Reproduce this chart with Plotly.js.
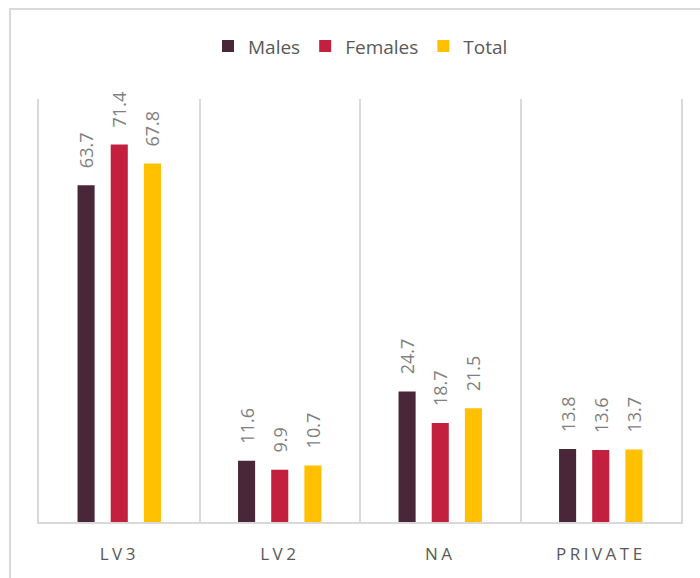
<!DOCTYPE html>
<html>
<head>
<meta charset="utf-8">
<script src="https://cdn.plot.ly/plotly-3.0.1.min.js"></script>
<style>
  html, body { margin: 0; padding: 0; background: #fff; }
  #wrap { position: relative; width: 700px; height: 578px; overflow: hidden; }
  #chart { position: absolute; left: 0; top: 0; width: 700px; height: 578px; }
  #frame { position: absolute; left: 9px; top: 8px; width: 800px; height: 700px;
           border-top: 2px solid #d9d9d9; border-left: 2px solid #d9d9d9; pointer-events: none; }
  .xtick text { letter-spacing: 3.5px; }
</style>
</head>
<body>
<div id="wrap">
  <div id="chart"></div>
  <div id="frame"></div>
</div>
<script>
const categories = ["LV3", "LV2", "NA", "PRIVATE"];
const males = [63.7, 11.6, 24.7, 13.8];
const females = [71.4, 9.9, 18.7, 13.6];
const total = [67.8, 10.7, 21.5, 13.7];

const seriesNames = ["Males", "Females", "Total"];
const seriesColors = ["#4A2639", "#C31F3F", "#FFC000"];
const seriesValues = [males, females, total];

const traces = seriesValues.map((vals, i) => ({
  type: "bar",
  name: seriesNames[i],
  x: categories,
  y: vals,
  marker: { color: seriesColors[i] },
  texttemplate: "\u00a0\u00a0\u00a0%{y:.1f}",
  textposition: "outside",
  textangle: -90,
  constraintext: "none",
  cliponaxis: false,
  textfont: { family: "Open Sans, sans-serif", size: 18, color: "#7f7f7f" },
  hoverinfo: "x+y+name"
}));

const layout = {
  width: 700,
  height: 578,
  margin: { l: 39, r: 19, t: 99, b: 56 },
  paper_bgcolor: "#ffffff",
  plot_bgcolor: "#ffffff",
  font: { family: "Open Sans, sans-serif", color: "#595959" },
  barmode: "group",
  bargap: 0.38,
  bargroupgap: 0.485,
  showlegend: true,
  legend: {
    orientation: "h",
    xref: "container",
    yref: "container",
    x: 0.515,
    xanchor: "center",
    y: 0.92,
    yanchor: "middle",
    font: { family: "Open Sans, sans-serif", size: 19, color: "#595959" },
    itemclick: false
  },
  xaxis: {
    type: "category",
    tickson: "boundaries",
    showgrid: true,
    gridcolor: "#d9d9d9",
    gridwidth: 2,
    showline: true,
    linecolor: "#d9d9d9",
    linewidth: 2,
    ticks: "",
    ticklabelstandoff: 16,
    tickfont: { family: "Open Sans, sans-serif", size: 17, color: "#595959" }
  },
  yaxis: {
    range: [0, 80],
    showticklabels: false,
    showgrid: false,
    zeroline: false,
    showline: true,
    mirror: true,
    linecolor: "#d9d9d9",
    linewidth: 2,
    ticks: ""
  }
};

Plotly.newPlot("chart", traces, layout, { displayModeBar: false, staticPlot: true });
</script>
</body>
</html>
